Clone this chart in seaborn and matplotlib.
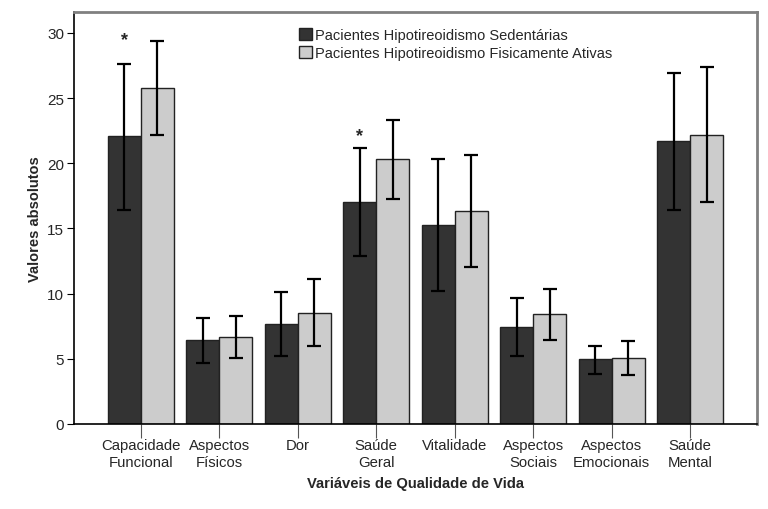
import numpy as np
import pandas as pd
import matplotlib
matplotlib.use('Agg')
from matplotlib import pyplot as plt
import seaborn as sns

categorias = ['Capacidade\nFuncional', 'Aspectos\nFísicos', 'Dor', 'Saúde\nGeral',
              'Vitalidade', 'Aspectos\nSociais', 'Aspectos\nEmocionais', 'Saúde\nMental']
grupos = ['Pacientes Hipotireoidismo Sedentárias',
          'Pacientes Hipotireoidismo Fisicamente Ativas']

sedentarias = [22.1, 6.45, 7.7, 17.0, 15.3, 7.45, 4.95, 21.7]
sed_inf = [16.4, 4.7, 5.25, 12.85, 10.2, 5.25, 3.85, 16.4]
sed_sup = [27.6, 8.1, 10.1, 21.15, 20.35, 9.65, 6.0, 26.95]

ativas = [25.8, 6.7, 8.55, 20.3, 16.3, 8.4, 5.1, 22.2]
at_inf = [22.2, 5.05, 5.95, 17.25, 12.05, 6.45, 3.75, 17.0]
at_sup = [29.4, 8.3, 11.1, 23.3, 20.6, 10.35, 6.4, 27.4]

# asteriscos de significancia (categoria, altura)
asteriscos = [(0, 28.8), (3, 21.5)]

df = pd.DataFrame({
    'categoria': categorias * 2,
    'grupo': [grupos[0]] * 8 + [grupos[1]] * 8,
    'valor': sedentarias + ativas,
})

sns.set_style('ticks')
plt.rcParams['font.family'] = ['Liberation Sans', 'DejaVu Sans']

fig = plt.figure(figsize=(7.68, 5.10), dpi=100)
ax = fig.add_axes([74 / 768, 1 - 425 / 510, (757 - 74) / 768, (425 - 13) / 510])

sns.barplot(data=df, x='categoria', y='valor', hue='grupo', order=categorias,
            hue_order=grupos, palette=['#333333', '#cccccc'], width=0.84,
            edgecolor='#222222', linewidth=1.0, errorbar=None, ax=ax)

# barras de erro
patches = [p for p in ax.patches if p.get_height() > 0]
sed_bars = patches[:8]
at_bars = patches[8:16]
for bars, vals, lo, hi in [(sed_bars, sedentarias, sed_inf, sed_sup),
                           (at_bars, ativas, at_inf, at_sup)]:
    xs = [b.get_x() + b.get_width() / 2 for b in bars]
    err = [np.array(vals) - np.array(lo), np.array(hi) - np.array(vals)]
    ax.errorbar(xs, vals, yerr=err, fmt='none', ecolor='black', elinewidth=1.6,
                capsize=5, capthick=1.6)

for i, h in asteriscos:
    b = sed_bars[i]
    ax.text(b.get_x() + b.get_width() / 2, h, '*', ha='center', va='bottom',
            fontsize=13, fontweight='bold')

ax.set_xlim(-0.85, 7.85)
ax.set_ylim(0, 31.6)
ax.set_yticks([0, 5, 10, 15, 20, 25, 30])
ax.tick_params(axis='y', labelsize=11, length=5, color='black', direction='out', pad=2)
ax.tick_params(axis='x', labelsize=10.7, length=10, color='#555555', direction='out', pad=0)
for lab in ax.get_xticklabels():
    lab.set_linespacing(1.3)

for s in ['top', 'right']:
    ax.spines[s].set_visible(True)
    ax.spines[s].set_color('#808080')
    ax.spines[s].set_linewidth(2)
for s in ['left', 'bottom']:
    ax.spines[s].set_color('black')
    ax.spines[s].set_linewidth(1.2)

ax.set_xlabel('Variáveis de Qualidade de Vida', fontsize=10.6, fontweight='bold', labelpad=5)
ax.set_ylabel('Valores absolutos', fontsize=10.5, fontweight='bold', labelpad=4)

leg = ax.legend(loc='upper left', bbox_to_anchor=(0.315, 0.985), frameon=False,
                fontsize=10.5, handlelength=0.9, handleheight=0.9, handletextpad=0.2,
                labelspacing=0.25, borderpad=0.2)
for h in leg.legend_handles:
    h.set_edgecolor('#222222')

fig.savefig('out.png', dpi=100)
